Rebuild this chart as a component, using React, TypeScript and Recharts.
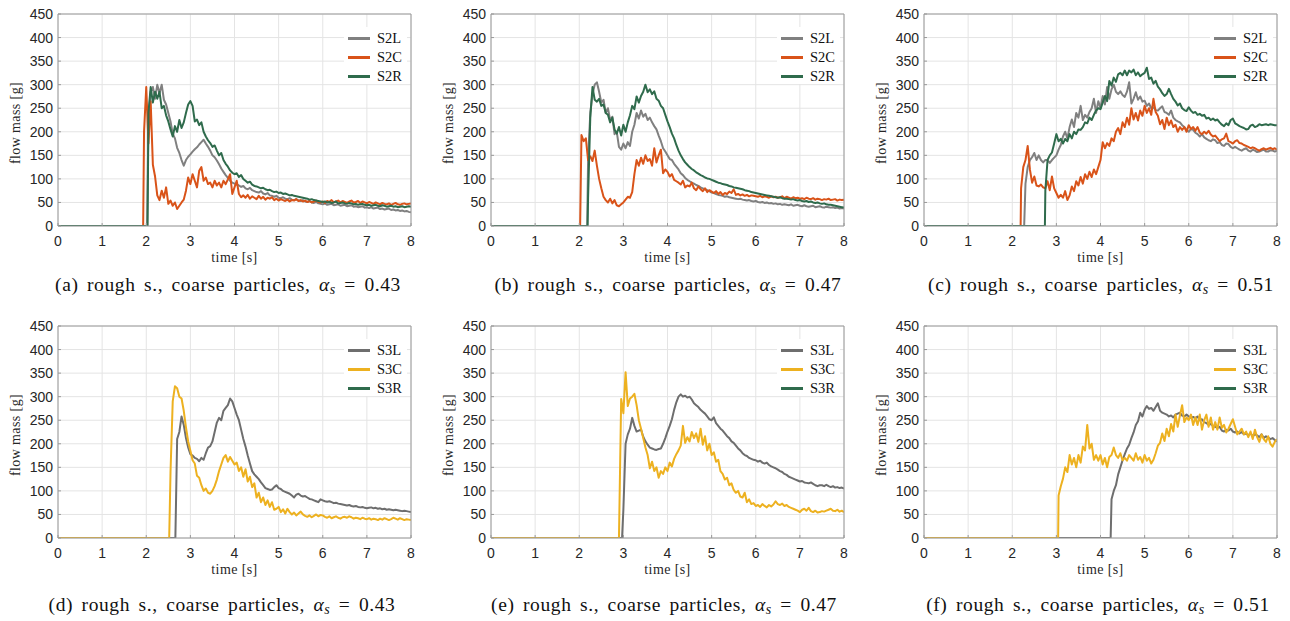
import React from "react";
import { LineChart, Line, XAxis, YAxis, CartesianGrid } from "recharts";

// sampling step of every trace below (s)
const STEP = 0.05;
const timeTicks = [0, 1, 2, 3, 4, 5, 6, 7, 8];
const massTicks = [0, 50, 100, 150, 200, 250, 300, 350, 400, 450];
const captionText = "rough s., coarse particles,";
const panelLetters = ["a", "b", "c", "d", "e", "f"];
const alphaValues = ["0.43", "0.47", "0.51", "0.43", "0.47", "0.51"];
const row1Names = ["S2L", "S2C", "S2R"];
const row2Names = ["S3L", "S3C", "S3R"];

// [last zero time, first sample time] for each trace
// (a)
const aS2L_on = [2.02, 2.05];
const aS2L = [
  230, 285, 295, 270, 300, 282, 300, 268, 258, 240,
  222, 196, 186, 166, 155, 140, 128, 140, 147, 152,
  158, 163, 167, 173, 178, 183, 175, 168, 160, 150,
  146, 139, 131, 122, 115, 108, 102, 96, 92, 90,
  88, 86, 83, 85, 80, 78, 81, 76, 74, 72,
  71, 74, 69, 67, 70, 65, 64, 62, 64, 60,
  59, 61, 58, 57, 59, 56, 55, 57, 54, 53,
  55, 52, 51, 53, 50, 49, 51, 48, 47, 46,
  48, 45, 46, 47, 44, 45, 46, 43, 44, 45,
  42, 43, 44, 41, 42, 40, 41, 42, 39, 40,
  38, 40, 37, 38, 39, 36, 37, 35, 36, 37,
  34, 35, 33, 34, 32, 33, 31, 32, 30, 29,
];
const aS2C_on = [1.93, 1.95];
const aS2C = [
  200, 295, 175, 265, 130, 105, 65, 55, 75, 60,
  82, 47, 54, 43, 50, 36, 43, 50, 56, 75,
  103, 89, 110, 96, 82, 117, 125, 96, 103, 89,
  92, 82, 96, 86, 92, 82, 96, 89, 99, 110,
  68, 82, 96, 68, 61, 65, 60, 66, 58, 63,
  60, 57, 64, 58, 62, 56, 60, 58, 61, 55,
  58, 54, 57, 55, 53, 56, 52, 55, 54, 57,
  53, 55, 52, 54, 51, 53, 50, 52, 54, 51,
  50, 52, 49, 53, 51, 55, 50, 52, 54, 50,
  53, 51, 49, 52, 54, 50, 51, 53, 49, 52,
  50, 48, 51, 49, 47, 50, 48, 46, 49, 47,
  46, 48, 45, 47, 49, 46, 45, 47, 48, 46,
  47, 48,
];
const aS2R_on = [2.03, 2.05];
const aS2R = [
  240, 295, 262, 285, 270, 285, 250, 255, 235, 222,
  205, 190, 212, 200, 225, 208, 220, 240, 258, 265,
  255, 222, 226, 214, 220, 200, 190, 182, 176, 168,
  171, 160, 150, 155, 140, 132, 126, 118, 113, 110,
  112, 104, 108, 100, 96, 92, 94, 88, 85, 84,
  82, 80, 81, 78, 76, 77, 74, 72, 73, 70,
  71, 68, 69, 67, 65, 66, 64, 63, 62, 61,
  60, 59, 58, 56, 57, 55, 54, 53, 52, 51,
  52, 50, 51, 49, 50, 52, 48, 49, 50, 48,
  47, 49, 48, 46, 47, 45, 46, 47, 45, 44,
  45, 43, 44, 45, 43, 42, 44, 43, 41, 42,
  43, 41, 42, 40, 41, 42, 40, 41, 42, 41,
];

// (b)
const bS2L_on = [2.18, 2.2];
const bS2L = [
  140, 240, 280, 300, 305, 285, 262, 268, 240, 250,
  225, 232, 195, 200, 168, 162, 175, 165, 178, 170,
  200, 215, 240, 228, 245, 232, 238, 225, 230, 220,
  212, 205, 192, 180, 165, 158, 150, 142, 140, 132,
  126, 120, 112, 108, 102, 98, 95, 92, 90, 87,
  85, 82, 80, 78, 76, 74, 71, 70, 68, 66,
  65, 64, 62, 63, 61, 60, 59, 58, 57, 58,
  56, 55, 54, 55, 53, 52, 53, 51, 50, 51,
  49, 50, 48, 49, 47, 48, 46, 47, 45, 46,
  45, 44, 46, 43, 44, 45, 43, 42, 44, 42,
  41, 42, 43, 40, 41, 42, 40, 39, 41, 40,
  39, 40, 38, 39, 37, 38, 37,
];
const bS2C_on = [2.02, 2.05];
const bS2C = [
  193, 180, 186, 140, 148, 138, 160, 128, 100, 80,
  62, 55, 50, 58, 48, 55, 44, 42, 46, 50,
  56, 62, 60, 72, 110, 140, 128, 145, 132, 150,
  138, 142, 128, 165, 135, 150, 162, 112, 120, 115,
  105, 110, 98, 95, 92, 88, 96, 82, 86, 84,
  92, 80, 76, 84, 78, 74, 80, 72, 76, 73,
  70, 74, 68, 72, 66, 70, 68, 73, 70, 78,
  66, 68, 65, 67, 64, 66, 63, 65, 64, 63,
  62, 64, 61, 63, 62, 60, 63, 61, 62, 60,
  61, 63, 59, 62, 60, 58, 61, 59, 60, 58,
  59, 57, 60, 58, 57, 59, 56, 58, 57, 55,
  57, 56, 58, 55, 56, 57, 54, 56, 55, 56,
];
const bS2R_on = [2.19, 2.2];
const bS2R = [
  60, 230, 295, 268, 264, 270, 255, 258, 240, 236,
  220, 230, 205, 196, 210, 192, 215, 200, 220, 235,
  255, 248, 275, 262, 276, 285, 300, 284, 290, 280,
  286, 270, 266, 255, 250, 236, 222, 210, 196, 186,
  172, 160, 150, 142, 135, 130, 125, 121, 118, 114,
  111, 108, 106, 103, 101, 100, 98, 96, 94, 92,
  91, 89, 88, 87, 85, 84, 82, 81, 80, 79,
  78, 76, 75, 74, 72, 71, 70, 69, 68, 67,
  66, 65, 64, 63, 62, 61, 60, 61, 59, 58,
  58, 57, 56, 57, 55, 54, 55, 53, 52, 53,
  51, 52, 50, 49, 50, 48, 47, 48, 46, 45,
  45, 44, 43, 42, 41, 40, 39,
];

// (c)
const cS2L_on = [2.27, 2.3];
const cS2L = [
  90, 125, 140, 146, 155, 140, 150, 140, 135, 140,
  140, 134, 140, 145, 150, 162, 172, 190, 200, 186,
  210, 226, 210, 240, 230, 255, 225, 236, 230, 242,
  250, 270, 240, 265, 250, 276, 258, 295, 270, 290,
  300, 285, 280, 286, 278, 274, 285, 305, 260, 270,
  284, 268, 275, 264, 266, 255, 260, 250, 252, 246,
  245, 250, 254, 242, 240, 236, 245, 230, 225, 222,
  220, 214, 210, 204, 200, 206, 204, 198, 195, 190,
  195, 188, 185, 182, 180, 184, 182, 176, 178, 172,
  170, 175, 174, 168, 165, 168, 165, 162, 160, 163,
  165, 160, 158, 162, 160, 157, 158, 160, 162, 158,
  158, 161, 160, 158, 160,
];
const cS2C_on = [2.19, 2.2];
const cS2C = [
  80, 125, 140, 170, 120, 92, 105, 86, 84, 88,
  82, 80, 95, 76, 105, 80, 70, 60, 66, 60,
  74, 55, 65, 84, 74, 95, 86, 104, 90, 110,
  100, 115, 104, 120, 110, 125, 140, 178, 165, 176,
  170, 186, 180, 200, 208, 195, 220, 210, 230, 215,
  250, 226, 240, 224, 245, 234, 255, 240, 250, 236,
  270, 242, 234, 216, 225, 206, 230, 214, 224, 210,
  215, 200, 210, 204, 210, 200, 214, 206, 210, 202,
  210, 198, 195, 200, 196, 202, 194, 190, 192, 186,
  180, 184, 186, 196, 180, 178, 175, 180, 182, 176,
  175, 172, 170, 168, 165, 167, 165, 162, 160, 163,
  165, 162, 164, 166, 163, 165, 162,
];
const cS2R_on = [2.74, 2.75];
const cS2R = [
  75, 140, 150, 156, 175, 195, 180, 185, 175, 185,
  180, 195, 186, 200, 195, 205, 204, 210, 220, 218,
  230, 225, 236, 245, 250, 248, 262, 276, 265, 308,
  298, 315, 306, 322, 325, 320, 330, 320, 330, 326,
  332, 320, 326, 318, 322, 325, 336, 312, 315, 302,
  308, 296, 290, 282, 276, 280, 291, 280, 270, 264,
  256, 260, 250, 246, 244, 252, 245, 240, 242, 236,
  238, 234, 236, 228, 230, 225, 228, 224, 226, 220,
  215, 212, 218, 214, 225, 228, 218, 215, 212, 210,
  208, 205, 206, 213, 215, 210, 212, 216, 214, 215,
  216, 214, 216, 215, 214, 214,
];

// (d)
const dS3L_on = [2.66, 2.7];
const dS3L = [
  210, 225, 258, 240, 212, 192, 178, 175, 170, 168,
  163, 170, 166, 180, 192, 195, 205, 225, 245, 255,
  250, 270, 276, 282, 296, 290, 276, 262, 250, 230,
  210, 194, 175, 158, 142, 135, 130, 125, 118, 112,
  106, 104, 102, 103, 108, 112, 106, 104, 100, 98,
  96, 94, 90, 86, 92, 94, 90, 88, 89, 86,
  83, 82, 80, 78, 76, 82, 80, 78, 77, 78,
  76, 74, 75, 73, 72, 71, 70, 69, 70, 68,
  67, 68, 66, 65, 66, 64, 63, 64, 65, 63,
  64, 62, 63, 61, 62, 60, 61, 60, 59, 60,
  59, 58, 57, 58, 57, 56, 55,
];
const dS3C_on = [2.52, 2.55];
const dS3C = [
  140, 290, 322, 318, 300, 296, 270, 235, 205, 185,
  165, 158, 132, 128, 112, 100, 105, 96, 94, 100,
  110, 124, 142, 156, 170, 176, 162, 172, 164, 156,
  160, 142, 150, 130, 146, 120, 130, 108, 116, 86,
  96, 76, 86, 70, 80, 66, 76, 60, 62, 66,
  55, 61, 52, 62, 55, 50, 54, 48, 52, 56,
  50, 47, 45, 48, 44, 47, 50, 46, 49, 48,
  45, 43, 46, 42, 44, 46, 43, 41, 44, 45,
  43, 46, 44, 41, 43, 42, 40, 43, 41, 40,
  42, 39, 41, 40, 38, 41, 39, 42, 40, 38,
  40, 43, 41, 39, 42, 40, 38, 40, 39, 38,
];

// (e)
const eS3L_on = [2.97, 3.0];
const eS3L = [
  60, 200, 220, 232, 255, 238, 226, 228, 230, 215,
  205, 198, 192, 190, 188, 187, 189, 190, 200, 212,
  226, 238, 252, 272, 288, 300, 305, 300, 302, 298,
  300, 294, 286, 282, 278, 272, 268, 264, 258, 252,
  250, 256, 244, 238, 232, 228, 222, 216, 212, 205,
  202, 196, 190, 186, 180, 176, 174, 170, 168, 166,
  165, 162, 164, 160, 158, 160, 155, 152, 150, 148,
  145, 142, 140, 136, 134, 130, 128, 126, 124, 122,
  120, 121, 118, 117, 116, 118, 115, 112, 110, 112,
  112, 110, 113, 110, 108, 110, 107, 108, 106, 107,
  105,
];
const eS3C_on = [2.9, 2.95];
const eS3C = [
  295, 265, 352, 280, 296, 300, 306, 282, 250, 232,
  212, 192, 176, 148, 162, 142, 150, 128, 142, 136,
  150, 142, 160, 152, 168, 178, 186, 196, 238, 202,
  214, 205, 225, 212, 222, 204, 232, 198, 216, 186,
  200, 176, 182, 162, 166, 142, 136, 124, 128, 112,
  116, 102, 96, 100, 88, 86, 96, 76, 82, 72,
  74, 68, 70, 66, 72, 68, 65, 70, 67, 71,
  78, 72, 70, 73, 68, 70, 66, 64, 62, 60,
  58, 55, 60, 62, 58, 64, 57, 55, 58, 54,
  55, 57, 56, 58, 60, 62, 58, 57, 60, 56,
  58, 55,
];

// (f)
const fS3L_on = [4.23, 4.25];
const fS3L = [
  82, 100, 112, 135, 150, 165, 178, 190, 198, 212,
  224, 240, 248, 266, 258, 272, 280, 274, 276, 270,
  278, 286, 270, 266, 264, 262, 258, 260, 256, 262,
  264, 266, 260, 258, 262, 258, 255, 257, 254, 258,
  250, 252, 246, 244, 240, 242, 238, 236, 234, 236,
  228, 226, 230, 228, 232, 226, 224, 226, 222, 225,
  220, 222, 218, 222, 216, 220, 218, 214, 220, 212,
  216, 213, 210, 212, 208, 205,
];
const fS3C_on = [3.04, 3.05];
const fS3C = [
  90, 110, 126, 150, 140, 176, 156, 170, 150, 176,
  160, 194, 186, 240, 190, 200, 166, 176, 164, 176,
  156, 170, 150, 172, 176, 192, 176, 170, 180, 165,
  170, 164, 176, 170, 164, 180, 166, 172, 160, 176,
  164, 170, 158, 166, 180, 196, 202, 222, 206, 232,
  216, 242, 226, 262, 236, 260, 282, 246, 256, 250,
  262, 240, 256, 240, 262, 230, 250, 262, 236, 256,
  230, 246, 230, 256, 234, 240, 224, 232, 242, 252,
  236, 220, 226, 232, 220, 226, 214, 226, 210, 230,
  214, 204, 220, 210, 204, 216, 200, 194, 204, 210,
];

const GRAY = "#808080";
const GRAY_DARK = "#6e6e6e";
const ORANGE = "#d95319";
const GREEN = "#2f6b4c";
const YELLOW = "#edb120";

type Pt = { t: number; v: number };
type Trace = { name: string; color: string; pts: Pt[] | null };

function trace(on: number[], vals: number[]): Pt[] {
  const pts: Pt[] = [{ t: 0, v: 0 }, { t: on[0], v: 0 }];
  vals.forEach((v, i) => {
    const t = Math.round((on[1] + i * STEP) * 1000) / 1000;
    if (t <= 8) pts.push({ t, v });
  });
  return pts;
}

const panels: Trace[][] = [
  [
    { name: row1Names[0], color: GRAY, pts: trace(aS2L_on, aS2L) },
    { name: row1Names[1], color: ORANGE, pts: trace(aS2C_on, aS2C) },
    { name: row1Names[2], color: GREEN, pts: trace(aS2R_on, aS2R) },
  ],
  [
    { name: row1Names[0], color: GRAY, pts: trace(bS2L_on, bS2L) },
    { name: row1Names[1], color: ORANGE, pts: trace(bS2C_on, bS2C) },
    { name: row1Names[2], color: GREEN, pts: trace(bS2R_on, bS2R) },
  ],
  [
    { name: row1Names[0], color: GRAY, pts: trace(cS2L_on, cS2L) },
    { name: row1Names[1], color: ORANGE, pts: trace(cS2C_on, cS2C) },
    { name: row1Names[2], color: GREEN, pts: trace(cS2R_on, cS2R) },
  ],
  [
    { name: row2Names[0], color: GRAY_DARK, pts: trace(dS3L_on, dS3L) },
    { name: row2Names[1], color: YELLOW, pts: trace(dS3C_on, dS3C) },
    { name: row2Names[2], color: GREEN, pts: null },
  ],
  [
    { name: row2Names[0], color: GRAY_DARK, pts: trace(eS3L_on, eS3L) },
    { name: row2Names[1], color: YELLOW, pts: trace(eS3C_on, eS3C) },
    { name: row2Names[2], color: GREEN, pts: null },
  ],
  [
    { name: row2Names[0], color: GRAY_DARK, pts: trace(fS3L_on, fS3L) },
    { name: row2Names[1], color: YELLOW, pts: trace(fS3C_on, fS3C) },
    { name: row2Names[2], color: GREEN, pts: null },
  ],
];

// plot-area origin of each panel
const plotLeft = [58, 491, 924, 58, 491, 924];
const plotTop = [14, 14, 14, 326, 326, 326];
const captionCenter = [228, 668, 1101, 222, 664, 1098];
const captionY = [285, 285, 285, 605, 605, 605];

const W = 353;
const H = 212;
const SANS = "'Liberation Sans', Arial, Helvetica, sans-serif";
const SERIF = "'Liberation Serif', 'Times New Roman', serif";
const AXIS = "#9a9a9a";
const INK = "#262626";

function Panel({ idx }: { idx: number }) {
  const x0 = plotLeft[idx];
  const y0 = plotTop[idx];
  const traces = panels[idx];
  return (
    <>
      <div style={{ position: "absolute", left: x0 - 58, top: y0 - 14 }}>
        <LineChart
          width={58 + W + 15}
          height={14 + H + 60}
          margin={{ top: 13, right: 14, bottom: 30, left: 0 }}
        >
          <CartesianGrid xAxisId="b" yAxisId="l" stroke="#e4e4e4" />
          <XAxis
            xAxisId="b"
            type="number"
            dataKey="t"
            domain={[0, 8]}
            ticks={timeTicks}
            allowDataOverflow
            height={30}
            stroke={AXIS}
            tickSize={-3}
            tickMargin={13}
            tick={{ fill: INK, fontSize: 14, fontFamily: SANS }}
          />
          <XAxis
            xAxisId="t"
            orientation="top"
            type="number"
            dataKey="t"
            domain={[0, 8]}
            ticks={timeTicks}
            height={1}
            stroke={AXIS}
            tickSize={-3}
            tick={false}
          />
          <YAxis
            yAxisId="l"
            type="number"
            domain={[0, 450]}
            ticks={massTicks}
            allowDataOverflow
            width={58}
            stroke={AXIS}
            tickSize={-3}
            tickMargin={8}
            tick={{ fill: INK, fontSize: 14, fontFamily: SANS }}
          />
          <YAxis
            yAxisId="r"
            orientation="right"
            type="number"
            domain={[0, 450]}
            ticks={massTicks}
            width={1}
            stroke={AXIS}
            tickSize={-3}
            tick={false}
          />
          {traces
            .filter((tr) => tr.pts)
            .map((tr) => (
              <Line
                key={tr.name}
                xAxisId="b"
                yAxisId="l"
                data={tr.pts as Pt[]}
                dataKey="v"
                type="linear"
                stroke={tr.color}
                strokeWidth={2}
                strokeLinejoin="round"
                dot={false}
                isAnimationActive={false}
              />
            ))}
        </LineChart>
      </div>

      {/* legend */}
      <div
        style={{
          position: "absolute",
          left: x0 + W - 67,
          top: y0 + 13,
          width: 63,
          height: 57,
          background: "#fff",
        }}
      >
        {traces.map((tr, i) => (
          <div
            key={tr.name}
            style={{ position: "absolute", left: 0, top: 4 + i * 19, height: 14, display: "flex", alignItems: "center" }}
          >
            <span style={{ display: "inline-block", width: 22, height: 3, background: tr.color, marginLeft: 4 }} />
            <span style={{ marginLeft: 7, fontFamily: SERIF, fontSize: 14.5, color: "#111", lineHeight: "14px" }}>{tr.name}</span>
          </div>
        ))}
      </div>

      {/* axis titles */}
      <div
        style={{
          position: "absolute",
          left: x0 - 42,
          top: y0 + H / 2 + 3,
          width: 0,
          height: 0,
        }}
      >
        <div
          style={{
            position: "absolute",
            transform: "translate(-50%, -50%) rotate(-90deg)",
            whiteSpace: "nowrap",
            fontFamily: SERIF,
            fontSize: 14,
            letterSpacing: 0.4,
            color: INK,
          }}
        >
          flow mass [g]
        </div>
      </div>
      <div
        style={{
          position: "absolute",
          left: x0,
          width: W,
          top: y0 + H + 24,
          textAlign: "center",
          fontFamily: SERIF,
          fontSize: 14,
          letterSpacing: 0.4,
          color: INK,
          lineHeight: "16px",
        }}
      >
        time [s]
      </div>

      {/* caption */}
      <div
        style={{
          position: "absolute",
          left: captionCenter[idx] - 220,
          width: 440,
          top: captionY[idx] - 12,
          textAlign: "center",
          fontFamily: SERIF,
          fontSize: 19.5,
          letterSpacing: 0.6,
          wordSpacing: 3,
          color: "#111",
          lineHeight: "24px",
          whiteSpace: "nowrap",
        }}
      >
        ({panelLetters[idx]}) {captionText}{" "}
        <i>α</i>
        <sub style={{ fontSize: 14, fontStyle: "italic", verticalAlign: "-3px" }}>s</sub>
        {" "}= {alphaValues[idx]}
      </div>
    </>
  );
}

export default function App() {
  return (
    <div
      style={{
        position: "absolute",
        left: 0,
        top: 0,
        width: 1290,
        height: 621,
        background: "#fff",
        overflow: "hidden",
      }}
    >
      {panels.map((_, i) => (
        <Panel key={i} idx={i} />
      ))}
    </div>
  );
}
